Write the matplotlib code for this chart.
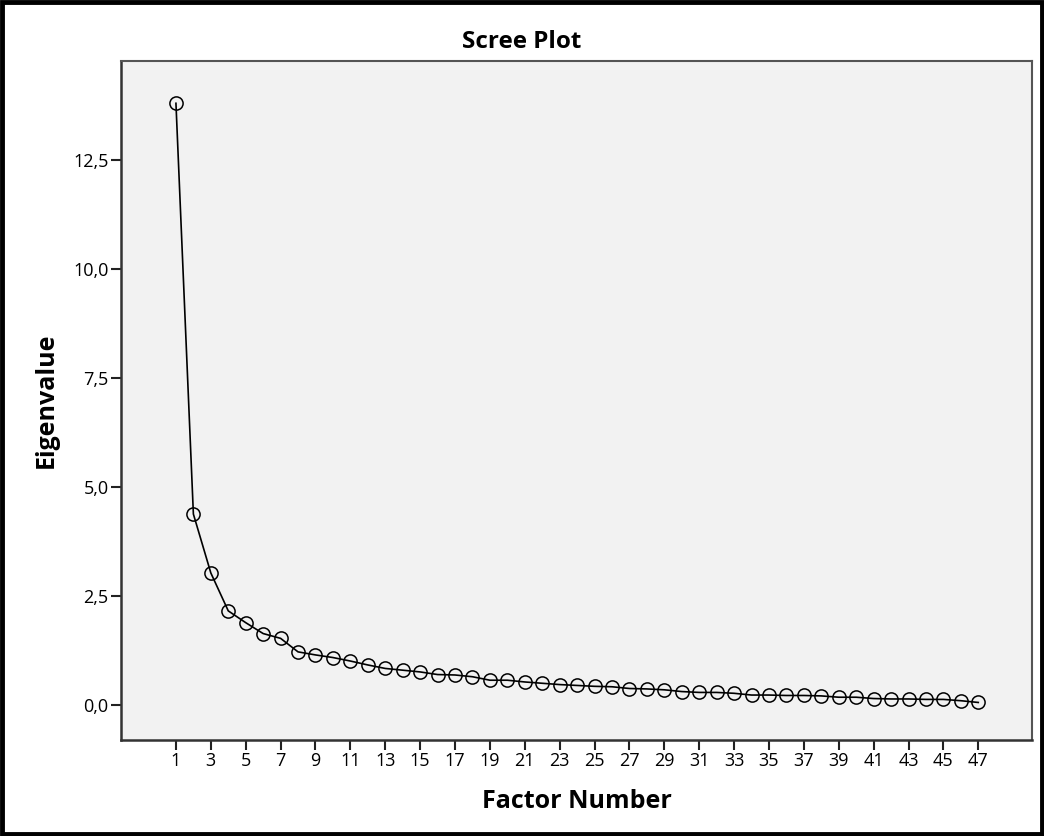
import matplotlib
matplotlib.use("Agg")
import matplotlib.pyplot as plt
from matplotlib.patches import Rectangle

factors = list(range(1, 48))
eigenvalues = [13.80, 4.38, 3.03, 2.16, 1.89, 1.64, 1.53, 1.22, 1.15, 1.09,
               1.01, 0.92, 0.84, 0.80, 0.76, 0.70, 0.69, 0.65, 0.57, 0.57,
               0.53, 0.50, 0.47, 0.45, 0.43, 0.42, 0.38, 0.37, 0.35, 0.31,
               0.29, 0.29, 0.27, 0.23, 0.23, 0.22, 0.22, 0.21, 0.18, 0.18,
               0.15, 0.14, 0.14, 0.13, 0.13, 0.10, 0.06]
xticks = list(range(1, 48, 2))
yticks = [0.0, 2.5, 5.0, 7.5, 10.0, 12.5]
ytick_labels = ["0,0", "2,5", "5,0", "7,5", "10,0", "12,5"]

plt.rcParams['font.family'] = ['Open Sans', 'DejaVu Sans']

fig = plt.figure(figsize=(10.44, 8.36), dpi=100)
ax = fig.add_axes([0.1159, 0.1154, 0.9885 - 0.1159, 0.9276 - 0.1154])
ax.set_facecolor('#f2f2f2')

ax.plot(factors, eigenvalues, color='black', linewidth=1.2,
        marker='o', markersize=9.5, markerfacecolor='none',
        markeredgecolor='black', markeredgewidth=1.1)

ax.set_xlim(-2.15, 50.08)
ax.set_ylim(-0.79, 14.78)
ax.set_xticks(xticks)
ax.set_xticklabels([str(t) for t in xticks], fontsize=13)
ax.set_yticks(yticks)
ax.set_yticklabels(ytick_labels, fontsize=13)
ax.tick_params(axis='both', direction='out', length=7, width=1.5, color='#222222', pad=2)

for s in ['left', 'bottom']:
    ax.spines[s].set_linewidth(1.8)
    ax.spines[s].set_color('#333333')
for s in ['top', 'right']:
    ax.spines[s].set_linewidth(1.5)
    ax.spines[s].set_color('#555555')

ax.set_xlabel('Factor Number', fontsize=18, fontweight='bold', labelpad=14)
ax.set_ylabel('Eigenvalue', fontsize=18, fontweight='bold', labelpad=10)
fig.text(0.5, 0.950, 'Scree Plot', ha='center', va='center', fontsize=17.5, fontweight='bold')

fig.patches.append(Rectangle((0.0015, 0.002), 0.997, 0.996, transform=fig.transFigure,
                             fill=False, edgecolor='black', linewidth=3.5))

fig.savefig('out.png', dpi=100, facecolor='white')
